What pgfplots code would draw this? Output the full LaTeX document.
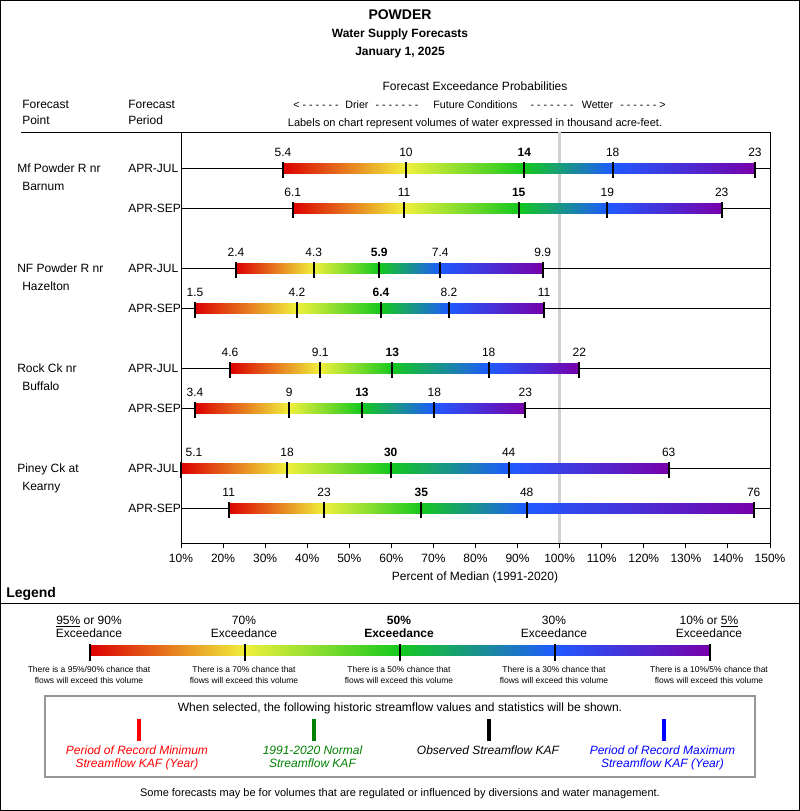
\documentclass[border=0pt]{standalone}
\usepackage{pgfplots}
\pgfplotsset{compat=1.18}
\usepackage{fontspec}
\setmainfont{Liberation Sans}
\definecolor{cR}{RGB}{220,0,0}
\definecolor{cY}{RGB}{240,240,60}
\definecolor{cG}{RGB}{20,200,30}
\definecolor{cB}{RGB}{30,90,255}
\definecolor{cP}{RGB}{120,0,170}
\definecolor{cGray}{RGB}{208,208,208}
\definecolor{cBox}{RGB}{150,150,150}
\definecolor{cGreen}{RGB}{0,128,0}
\newcommand\fs[1]{\fontsize{#1pt}{#1pt}\selectfont}
% #1 line y, #2 bar top, #3 bar bottom, #4 tick y, #5-#9 values (percent of median)
\newcommand\row[9]{%
 \addplot[black, line width=0.75pt, forget plot] coordinates {(10,#1) (150,#1)};
 \addplot[draw=none, left color=cR, right color=cY, forget plot] coordinates {(#5,#2) (#6,#2) (#6,#3) (#5,#3)} -- cycle;
 \addplot[draw=none, left color=cY, right color=cG, forget plot] coordinates {(#6,#2) (#7,#2) (#7,#3) (#6,#3)} -- cycle;
 \addplot[draw=none, left color=cG, right color=cB, forget plot] coordinates {(#7,#2) (#8,#2) (#8,#3) (#7,#3)} -- cycle;
 \addplot[draw=none, left color=cB, right color=cP, forget plot] coordinates {(#8,#2) (#9,#2) (#9,#3) (#8,#3)} -- cycle;
 \addplot[only marks, mark=|, mark size=6pt, mark options={line width=1.5pt, black}, forget plot] coordinates {(#5,#4) (#6,#4) (#7,#4) (#8,#4) (#9,#4)};
}
\newcommand\lab[3]{\node[anchor=base, inner sep=0pt, font=\fs{9}] at (axis cs:#1,#2) {#3};}
\begin{document}
\begin{tikzpicture}
\useasboundingbox (0,0) rectangle (600pt,-608.25pt);
\begin{axis}[
  at={(135.75pt,-407.25pt)}, anchor=south west,
  scale only axis, width=441.75pt, height=308.25pt,
  xmin=10, xmax=150, ymin=-543, ymax=-132,
  clip=false,
  axis line style={black, line width=0.75pt},
  xtick={10,20,...,150},
  xticklabels={10\%,20\%,30\%,40\%,50\%,60\%,70\%,80\%,90\%,100\%,110\%,120\%,130\%,140\%,150\%},
  ytick=\empty,
  xtick pos=bottom, tick align=outside, major tick length=3.75pt,
  tick style={black, line width=0.75pt},
  xticklabel style={font=\fs{9}, anchor=base, inner sep=0pt, yshift=-10.5pt},
]
\addplot[cGray, line width=2.25pt, forget plot] coordinates {(100,-132) (100,-543)};
\row{-168}{-163}{-173}{-170}{34.24}{63.48}{91.60}{112.61}{146.43}
\row{-208}{-203}{-213}{-210}{36.55}{63.00}{90.27}{111.33}{138.52}
\row{-268}{-263}{-273}{-270}{23.07}{41.54}{57.13}{71.63}{95.97}
\row{-308}{-303}{-313}{-310}{13.33}{37.57}{57.54}{73.70}{96.28}
\row{-368}{-363}{-373}{-370}{21.65}{43.11}{60.22}{83.14}{104.67}
\row{-408}{-403}{-413}{-410}{13.33}{35.74}{53.02}{70.21}{91.84}
\row{-468}{-463}{-473}{-470}{10.00}{35.20}{59.84}{87.89}{125.92}
\row{-508}{-503}{-513}{-510}{21.34}{43.99}{67.12}{92.17}{146.12}
% labels
\lab{34.24}{-156}{5.4}\lab{63.48}{-156}{10}\lab{91.60}{-156}{\textbf{14}}\lab{112.61}{-156}{18}\lab{146.43}{-156}{23}
\lab{36.55}{-196}{6.1}\lab{63.00}{-196}{11}\lab{90.27}{-196}{\textbf{15}}\lab{111.33}{-196}{19}\lab{138.52}{-196}{23}
\lab{23.07}{-256}{2.4}\lab{41.54}{-256}{4.3}\lab{57.13}{-256}{\textbf{5.9}}\lab{71.63}{-256}{7.4}\lab{95.97}{-256}{9.9}
\lab{13.33}{-296}{1.5}\lab{37.57}{-296}{4.2}\lab{57.54}{-296}{\textbf{6.4}}\lab{73.70}{-296}{8.2}\lab{96.28}{-296}{11}
\lab{21.65}{-356}{4.6}\lab{43.11}{-356}{9.1}\lab{60.22}{-356}{\textbf{13}}\lab{83.14}{-356}{18}\lab{104.67}{-356}{22}
\lab{13.33}{-396}{3.4}\lab{35.74}{-396}{9}\lab{53.02}{-396}{\textbf{13}}\lab{70.21}{-396}{18}\lab{91.84}{-396}{23}
\lab{13.09}{-456}{5.1}\lab{35.20}{-456}{18}\lab{59.84}{-456}{\textbf{30}}\lab{87.89}{-456}{44}\lab{125.92}{-456}{63}
\lab{21.34}{-496}{11}\lab{43.99}{-496}{23}\lab{67.12}{-496}{\textbf{35}}\lab{92.17}{-496}{48}\lab{146.12}{-496}{76}
\end{axis}
\begin{scope}[x=0.75pt, y=-0.75pt, every node/.style={inner sep=0pt, font=\fs{9}},
  t/.style={anchor=base}, tl/.style={anchor=base west}]
\draw[line width=0.75pt] (0.5,0.5) rectangle (799.5,810.5);
\draw[line width=0.75pt] (21,132) -- (181,132);
\node[t, font=\bfseries\fs{10.5}] at (400,19.5) {POWDER};
\node[t, font=\bfseries\fs{9}] at (400,37.5) {Water Supply Forecasts};
\node[t, font=\bfseries\fs{9}] at (400,55) {January 1, 2025};
\node[t] at (475,90) {Forecast Exceedance Probabilities};
\node[tl] at (22,108.5) {Forecast};
\node[tl] at (22,124) {Point};
\node[tl] at (128,108.5) {Forecast};
\node[tl] at (128,124) {Period};
\node[t, font=\fs{8}] at (316,108) {< - - - - - -};
\node[t, font=\fs{8}] at (357,108) {Drier};
\node[t, font=\fs{8}] at (397,108) {- - - - - - -};
\node[t, font=\fs{8}] at (475.5,108) {Future Conditions};
\node[t, font=\fs{8}] at (552,108) {- - - - - - -};
\node[t, font=\fs{8}] at (597.5,108) {Wetter};
\node[t, font=\fs{8}] at (643,108) {- - - - - - >};
\node[t, font=\fs{8.25}] at (475,126) {Labels on chart represent volumes of water expressed in thousand acre-feet.};
\node[tl] at (17,172.5) {Mf Powder R nr};
\node[tl] at (22,190.5) {Barnum};
\node[tl] at (17,272.5) {NF Powder R nr};
\node[tl] at (22,290.5) {Hazelton};
\node[tl] at (17,372.5) {Rock Ck nr};
\node[tl] at (22,390.5) {Buffalo};
\node[tl] at (17,472.5) {Piney Ck at};
\node[tl] at (22,490.5) {Kearny};
\node[tl] at (128,172.5) {APR-JUL};
\node[tl] at (128,212.5) {APR-SEP};
\node[tl] at (128,272.5) {APR-JUL};
\node[tl] at (128,312.5) {APR-SEP};
\node[tl] at (128,372.5) {APR-JUL};
\node[tl] at (128,412.5) {APR-SEP};
\node[tl] at (128,472.5) {APR-JUL};
\node[tl] at (128,512.5) {APR-SEP};
\node[t] at (475,580.5) {Percent of Median (1991-2020)};
\node[tl, font=\bfseries\fs{10.5}] at (6,597.5) {Legend};
\draw[line width=0.75pt] (0,603.5) -- (800,603.5);
% legend headers
\node[t] at (89,624) {\underline{95\%} or 90\%};
\node[t] at (89,637.7) {Exceedance};
\node[t] at (244,624) {70\%};
\node[t] at (244,637.7) {Exceedance};
\node[t, font=\bfseries\fs{9}] at (399,624) {50\%};
\node[t, font=\bfseries\fs{9}] at (399,637.7) {Exceedance};
\node[t] at (554,624) {30\%};
\node[t] at (554,637.7) {Exceedance};
\node[t] at (709,624) {10\% or \underline{5\%}};
\node[t] at (709,637.7) {Exceedance};
% legend bar
\shade[left color=cR, right color=cY] (90,645) rectangle (245,655);
\shade[left color=cY, right color=cG] (245,645) rectangle (400,655);
\shade[left color=cG, right color=cB] (400,645) rectangle (555,655);
\shade[left color=cB, right color=cP] (555,645) rectangle (710,655);
\foreach \xx in {90,245,400,555,710} \draw[line width=1.5pt] (\xx,644) -- (\xx,661);
\foreach \xx/\pp in {89/{95\%/90\%},244/{70\%},399/{50\%},554/{30\%},709/{10\%/5\%}} {
  \node[t, font=\fs{6.35}] at (\xx,672) {There is a \pp{} chance that};
  \node[t, font=\fs{6.35}] at (\xx,683.3) {flows will exceed this volume};
}
% historic box
\draw[cBox, line width=1.5pt] (45,696) rectangle (755,777);
\node[t] at (400,711.7) {When selected, the following historic streamflow values and statistics will be shown.};
\draw[red, line width=2.6pt] (139,719) -- (139,741);
\draw[cGreen, line width=2.6pt] (314,719) -- (314,741);
\draw[black, line width=2.6pt] (489,719) -- (489,741);
\draw[blue, line width=2.6pt] (664,719) -- (664,741);
\node[t, font=\itshape\fs{9}, text=red] at (137,754) {Period of Record Minimum};
\node[t, font=\itshape\fs{9}, text=red] at (137,767.5) {Streamflow KAF (Year)};
\node[t, font=\itshape\fs{9}, text=cGreen] at (312.5,754) {1991-2020 Normal};
\node[t, font=\itshape\fs{9}, text=cGreen] at (312.5,767.5) {Streamflow KAF};
\node[t, font=\itshape\fs{9}] at (488,754) {Observed Streamflow KAF};
\node[t, font=\itshape\fs{9}, text=blue] at (662.5,754) {Period of Record Maximum};
\node[t, font=\itshape\fs{9}, text=blue] at (662.5,767.5) {Streamflow KAF (Year)};
\node[t, font=\fs{8.25}] at (400,796) {Some forecasts may be for volumes that are regulated or influenced by diversions and water management.};
\end{scope}
\end{tikzpicture}
\end{document}
